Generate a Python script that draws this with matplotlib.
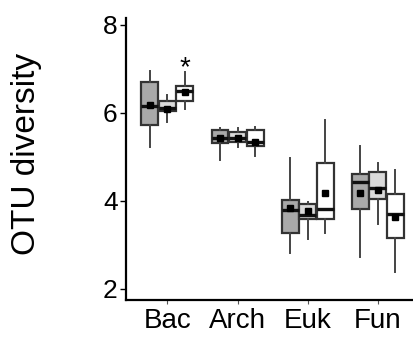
import matplotlib
matplotlib.use("Agg")
import matplotlib.pyplot as plt
import numpy as np

plt.rcParams['font.family'] = ['Liberation Sans', 'DejaVu Sans']

# groups on the x axis
groups = ["Bac", "Arch", "Euk", "Fun"]

# three treatments per group (dark grey, light grey, white)
fills = ["#a9a9a9", "#dadada", "#ffffff"]

# box stats, one row per group, one column per treatment
q1 = [[5.73, 6.05, 6.27],
      [5.31, 5.33, 5.25],
      [3.27, 3.58, 3.59],
      [3.81, 4.04, 3.15]]
med = [[6.15, 6.12, 6.50],
       [5.44, 5.44, 5.35],
       [3.80, 3.68, 3.81],
       [4.44, 4.30, 3.70]]
q3 = [[6.70, 6.27, 6.62],
      [5.61, 5.56, 5.61],
      [4.01, 3.93, 4.86],
      [4.61, 4.65, 4.15]]
whislo = [[5.23, 5.80, 6.08],
          [4.92, 5.22, 5.02],
          [2.81, 3.13, 3.27],
          [2.73, 3.47, 2.38]]
whishi = [[6.95, 6.41, 6.94],
          [5.66, 5.65, 5.69],
          [4.98, 3.98, 5.85],
          [5.25, 4.87, 4.70]]
means = [[6.18, 6.10, 6.48],
         [5.43, 5.42, 5.33],
         [3.83, 3.78, 4.19],
         [4.17, 4.24, 3.63]]

# significance marks (group, treatment, text)
marks = [(0, 2, "*")]

fig = plt.figure(figsize=(4.13, 3.37), dpi=100)
ax = fig.add_axes([0.305, 0.110, 0.712, 0.837])

width = 0.25
offsets = [-width, 0, width]

for g in range(len(groups)):
    for t in range(3):
        st = dict(med=med[g][t], q1=q1[g][t], q3=q3[g][t],
                  whislo=whislo[g][t], whishi=whishi[g][t],
                  mean=means[g][t], fliers=[])
        pos = g + 1 + offsets[t]
        ax.bxp([st], positions=[pos], widths=width * 0.96,
               patch_artist=True, showmeans=True, showcaps=False,
               boxprops=dict(facecolor=fills[t], edgecolor="#333333", linewidth=1.6),
               whiskerprops=dict(color="#444444", linewidth=1.4),
               medianprops=dict(color="#111111", linewidth=2.4),
               meanprops=dict(marker="s", markerfacecolor="black",
                              markeredgecolor="black", markersize=4.5))

for g, t, txt in marks:
    ax.text(g + 1 + offsets[t], whishi[g][t] + 0.08, txt, ha="center",
            va="center", fontsize=20)

ax.set_xlim(0.41, 4.6)
ax.set_ylim(1.75, 8.16)
ax.set_xticks(np.arange(1, len(groups) + 1))
ax.set_xticklabels(groups, fontsize=20)
ax.set_yticks([2, 4, 6, 8])
ax.set_yticklabels(["2", "4", "6", "8"], fontsize=19)
ax.tick_params(axis="x", length=3, width=0.8, pad=3, color="#555555")
ax.tick_params(axis="y", length=4, width=1, pad=2)
ax.set_ylabel("OTU diversity", fontsize=24)
ax.yaxis.set_label_coords(-0.285, 0.518)

for s in ["top", "right"]:
    ax.spines[s].set_visible(False)
for s in ["left", "bottom"]:
    ax.spines[s].set_linewidth(1.6)
    ax.spines[s].set_color("black")

fig.savefig("out.png", dpi=100)
